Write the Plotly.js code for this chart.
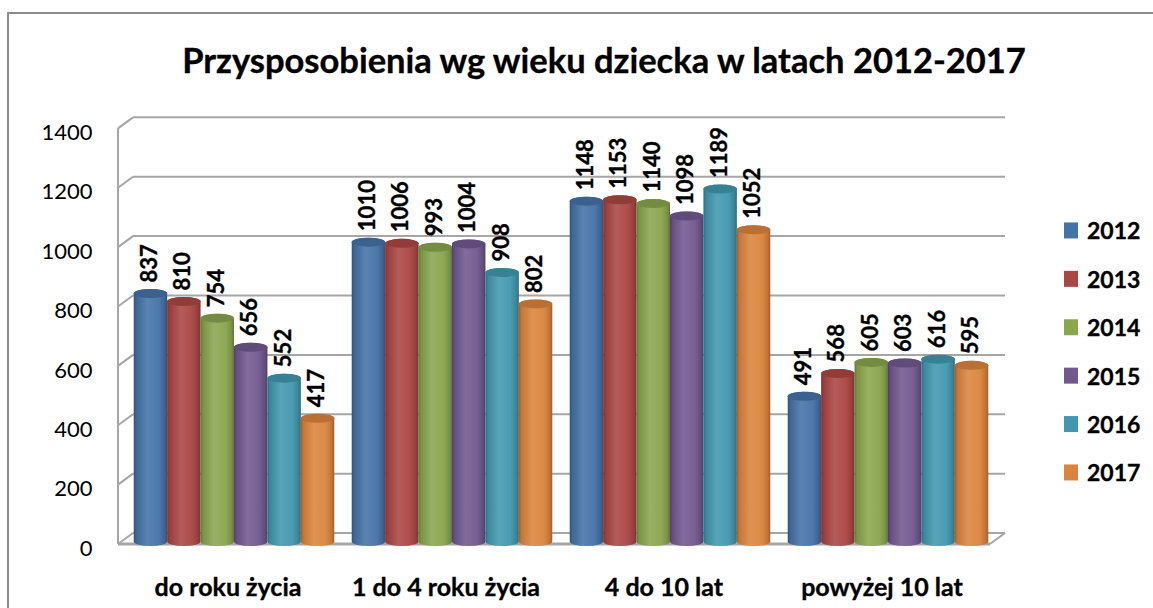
<!DOCTYPE html>
<html><head><meta charset="utf-8">
<script src="https://cdn.plot.ly/plotly-3.0.1.min.js"></script>
<style>html,body{margin:0;padding:0;background:#fff}#c{width:1153px;height:608px}
svg text{font-variant-numeric:tabular-nums lining-nums}
.gtitle,.legendtext,.xtick text,.bartext{stroke:#000;stroke-width:.35px}</style>
</head><body><div id="c"></div>
<script>
const categories = ['do roku życia','1 do 4 roku życia','4 do 10 lat','powyżej 10 lat'];
const years = ['2012','2013','2014','2015','2016','2017'];
const v2012 = [837,1010,1148,491];
const v2013 = [810,1006,1153,568];
const v2014 = [754,993,1140,605];
const v2015 = [656,1004,1098,603];
const v2016 = [552,908,1189,616];
const v2017 = [417,802,1052,595];
const seriesValues = [v2012,v2013,v2014,v2015,v2016,v2017];
const colors = ['#4572A7','#AA4643','#89A54E','#71588F','#4198AF','#DB843D'];
const tickValues = [0,200,400,600,800,1000,1200,1400];

const FONT = 'Lato, "Open Sans", sans-serif';
const W = 1153, H = 608, L = 118, R = 1005, T = 115, B = 547;
const DX = 15, DY = 11, plotW = R - L, frontEnd = (990 - L) / plotW;
const GRID = '#a6a6a6';

const traces = years.map((y,i)=>({
  type:'bar', name:y, x:categories, y:seriesValues[i],
  marker:{color:colors[i], line:{width:0}},
  text:seriesValues[i].map(String), textposition:'outside', textangle:-90,
  constraintext:'none', cliponaxis:false,
  textfont:{family:FONT,size:22,color:'#000',weight:700},
  legendgroup:y
}));

const wx = DX / plotW;
const shapes = [];
tickValues.forEach(v=>{
  shapes.push({type:'line',layer:'below',xref:'paper',yref:'y',ysizemode:'pixel',yanchor:v,
    x0:wx,x1:1,y0:DY,y1:DY,line:{color:GRID,width:2}});
  shapes.push({type:'line',layer:'below',xref:'paper',yref:'y',ysizemode:'pixel',yanchor:v,
    x0:0,x1:wx,y0:0,y1:DY,line:{color:GRID,width:2}});
});
shapes.push({type:'line',layer:'below',xref:'paper',yref:'y',x0:0,x1:0,y0:0,y1:1400,line:{color:GRID,width:2}});
shapes.push({type:'line',layer:'below',xref:'paper',yref:'y',x0:0,x1:frontEnd,y0:0,y1:0,line:{color:GRID,width:3}});
shapes.push({type:'line',layer:'below',xref:'paper',yref:'y',ysizemode:'pixel',yanchor:0,x0:frontEnd,x1:1,y0:0,y1:DY,line:{color:GRID,width:2}});
shapes.push({type:'rect',layer:'below',xref:'paper',yref:'paper',
  x0:(8-L)/plotW,x1:(W+10-L)/plotW,y0:(B-H-10)/(B-T),y1:(B-13)/(B-T),line:{color:'#8c8c8c',width:2}});

const layout = {
  width:W,height:H,autosize:false,showlegend:true,
  margin:{l:L,r:W-R,t:T,b:H-B,pad:0},
  paper_bgcolor:'#fff',plot_bgcolor:'rgba(0,0,0,0)',
  font:{family:FONT,color:'#000'},
  title:{text:'<b>Przysposobienia wg wieku dziecka w latach 2012-2017</b>',
    font:{family:FONT,size:34.5,color:'#000'},x:604/W,xanchor:'center',
    yref:'container',y:1-61/H,yanchor:'middle'},
  barmode:'group',bargap:0.08,bargroupgap:0,
  xaxis:{type:'category',range:[-0.5-7/218,3.5+8/218],showgrid:false,zeroline:false,showline:false,
    ticks:'outside',ticklen:18,tickcolor:'rgba(0,0,0,0)',
    tickfont:{family:FONT,size:25,color:'#000',weight:700}},
  yaxis:{range:[-10,1445],tickmode:'array',tickvals:tickValues,ticktext:tickValues.map(String),
    showgrid:false,zeroline:false,showline:false,ticks:'outside',ticklen:20,tickcolor:'rgba(0,0,0,0)',
    tickfont:{family:FONT,size:22,color:'#000'}},
  legend:{x:1047/W,xref:'container',y:1-209/H,yref:'container',xanchor:'left',yanchor:'top',
    bgcolor:'rgba(0,0,0,0)',traceorder:'grouped',tracegroupgap:15.5,itemwidth:30,
    font:{family:FONT,size:23,color:'#000',weight:700}},
  shapes
};

function shade(hex,f){
  const n=parseInt(hex.slice(1),16);
  const ch=[n>>16,(n>>8)&255,n&255].map(c=>Math.max(0,Math.min(255,Math.round(f>1?c+(255-c)*(f-1):c*f))));
  return 'rgb('+ch.join(',')+')';
}
const NS='http://www.w3.org/2000/svg';
Plotly.newPlot('c',traces,layout,{displayModeBar:false,staticPlot:true}).then(gd=>{
  const svg=gd.querySelector('.main-svg');
  const defs=svg.querySelector('defs');
  colors.forEach((c,i)=>{
    const g=document.createElementNS(NS,'linearGradient');
    g.id='cyl'+i;
    [[0,.72],[.08,.9],[.4,1.12],[.75,1.04],[.92,.88],[1,.72]].forEach(([o,f])=>{
      const s=document.createElementNS(NS,'stop');
      s.setAttribute('offset',o);s.setAttribute('stop-color',shade(c,f));g.appendChild(s);
    });
    defs.appendChild(g);
  });
  gd.querySelectorAll('.trace.bars').forEach((tr,i)=>{
    tr.querySelectorAll('.point').forEach(pt=>{
      const p=pt.querySelector('path');
      const b=p.getBBox();
      const rx=b.width/2, ry=4.5, l=b.x, r=b.x+b.width, t=b.y-2, bot=b.y+b.height-2.5;
      p.setAttribute('d',`M${l},${t}A${rx},${ry} 0 0 1 ${r},${t}L${r},${bot}A${rx},${ry} 0 0 1 ${l},${bot}Z`);
      p.style.fill=`url(#cyl${i})`;
      const e=document.createElementNS(NS,'ellipse');
      e.setAttribute('cx',l+rx);e.setAttribute('cy',t);e.setAttribute('rx',rx);e.setAttribute('ry',ry);
      e.style.fill=shade(colors[i],.85);
      p.parentNode.insertBefore(e,p.nextSibling);
      const tx=pt.querySelector('text');
      if(tx) tx.setAttribute('transform','translate(-2,-10) '+(tx.getAttribute('transform')||''));
    });
  });
  gd.querySelectorAll('.ytick text').forEach(t=>t.setAttribute('y',(+t.getAttribute('y')||0)+4));
  gd.querySelectorAll('.xtick text').forEach(t=>t.setAttribute('transform','translate(-6,0) '+(t.getAttribute('transform')||'')));
  gd.querySelectorAll('.legend .legendpoints path').forEach(p=>{
    p.setAttribute('d','M11,8H-3V-8H11Z');
  });
});
</script></body></html>
